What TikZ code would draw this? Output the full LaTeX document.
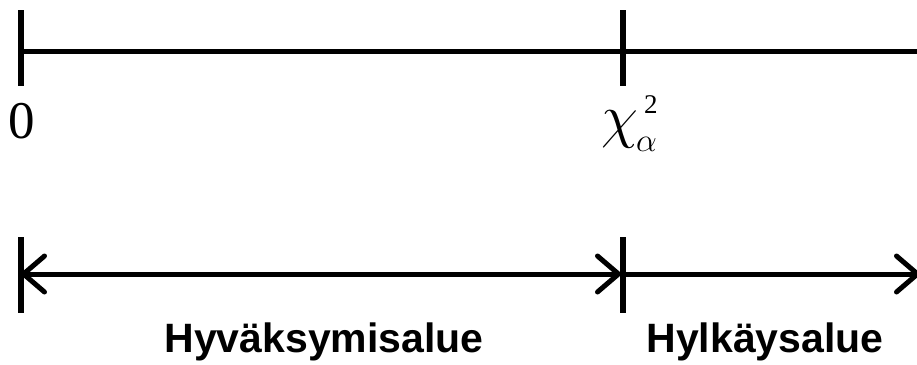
\RequirePackage{fix-cm}
\documentclass[tikz,border=0pt]{standalone}
\usepackage{fontspec}
\setmainfont{Liberation Serif}
\newfontfamily\labelsans{Liberation Sans}
\usetikzlibrary{arrows.meta}
\tikzset{
  axisline/.style={line width=5bp},
  tickmark/.style={line width=5.5bp},
  regionarrow/.style={line width=5bp, {Straight Barb[length=21bp,width=36bp,round]}-{Straight Barb[length=21bp,width=36bp,round]}},
  rightarrow/.style={line width=5bp, -{Straight Barb[length=21bp,width=36bp,round]}},
  regionlabel/.style={anchor=base, inner sep=0pt, font=\labelsans\bfseries\fontsize{41bp}{41bp}\selectfont},
  numlabel/.style={anchor=base, inner sep=0pt, font=\fontsize{53bp}{53bp}\selectfont}
}
\begin{document}
\begin{tikzpicture}[x=1bp,y=-1bp]
\useasboundingbox (0,0) rectangle (917,364);
% top axis
\coordinate (t0top) at (21,10);
\coordinate (t0bot) at (21,86);
\coordinate (tctop) at (623,10);
\coordinate (tcbot) at (623,86);
\coordinate (tstart) at (21,51);
\coordinate (tend) at (925,51);
\draw[axisline] (tstart) -- (tend);
\draw[tickmark] (t0top) -- (t0bot);
\draw[tickmark] (tctop) -- (tcbot);
% labels
\node[numlabel] (zero) at (22,138) {0};
\node[anchor=base west, inner sep=0pt, font=\fontsize{60bp}{60bp}\selectfont] (chi) at (601,136) {$\chi$};
\node[anchor=base west, inner sep=0pt, font=\fontsize{27bp}{27bp}\selectfont] (chisup) at (644,113) {2};
\node[anchor=base west, inner sep=0pt, font=\fontsize{33bp}{33bp}\selectfont] (chisub) at (636,151) {$\alpha$};
% bottom
\coordinate (b0top) at (21,237);
\coordinate (b0bot) at (21,313);
\coordinate (bctop) at (623,237);
\coordinate (bcbot) at (623,313);
\coordinate (bleft) at (21,274);
\coordinate (bmidL) at (621,274);
\coordinate (bmidR) at (623,274);
\coordinate (bright) at (920,274);
\draw[tickmark] (b0top) -- (b0bot);
\draw[tickmark] (bctop) -- (bcbot);
\draw[regionarrow] (bleft) -- (bmidL);
\draw[rightarrow] (bmidR) -- (bright);
\node[regionlabel] (acc) at (324,352) {Hyväksymisalue};
\node[regionlabel] (rej) at (765,352) {Hylkäysalue};
\end{tikzpicture}
\end{document}
